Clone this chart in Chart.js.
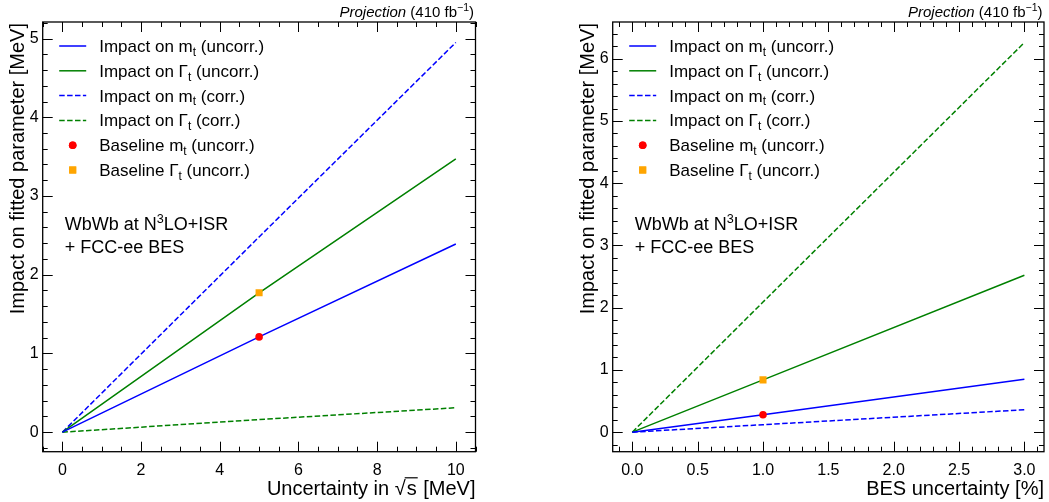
<!DOCTYPE html>
<html>
<head>
<meta charset="utf-8">
<script src="https://cdn.jsdelivr.net/npm/chart.js@4.4.1/dist/chart.umd.min.js"></script>
<style>
  html, body { margin: 0; padding: 0; background: #fff; }
  body { width: 1049px; height: 502px; position: relative; overflow: hidden; }
  canvas { position: absolute; top: 0; }
  #leftChart { left: 0; }
  #rightChart { left: 570px; }
</style>
</head>
<body>
<canvas id="leftChart" width="500" height="502"></canvas>
<canvas id="rightChart" width="479" height="502"></canvas>
<script>
// values
const sqrtsPoints = [0, 5, 10];
const sqrtsMtUncorr = [0, 1.21, 2.39];
const sqrtsGtUncorr = [0, 1.77, 3.47];
const sqrtsMtCorr = [0, 2.48, 4.95];
const sqrtsGtCorr = [0, 0.16, 0.31];
const sqrtsBaselineX = 5;
const sqrtsBaselineMt = 1.21;
const sqrtsBaselineGt = 1.77;

const besPoints = [0, 1, 3];
const besMtUncorr = [0, 0.28, 0.85];
const besGtUncorr = [0, 0.84, 2.52];
const besMtCorr = [0, 0.12, 0.36];
const besGtCorr = [0, 2.09, 6.26];
const besBaselineX = 1;
const besBaselineMt = 0.28;
const besBaselineGt = 0.84;

// tick labels
const sqrtsXTicks = [0, 2, 4, 6, 8, 10];
const sqrtsYTicks = [0, 1, 2, 3, 4, 5];
const besXTicks = [0, 0.5, 1, 1.5, 2, 2.5, 3];
const besYTicks = [0, 1, 2, 3, 4, 5, 6];

const seriesLabels = [
    'Impact on m_t (uncorr.)',
    'Impact on Γ_t (uncorr.)',
    'Impact on m_t (corr.)',
    'Impact on Γ_t (corr.)',
    'Baseline m_t (uncorr.)',
    'Baseline Γ_t (uncorr.)'
];

const FONT = "'Liberation Sans', Arial, Helvetica, sans-serif";
Chart.defaults.font.family = FONT;
Chart.defaults.color = '#000';

// split "m_t", "N^3LO", "fb^{-1}", "\sqrt{s}" into normal / sub / sup / root pieces
function richParts(text) {
    const parts = [];
    const re = /([_^]|\\sqrt)(\{[^}]*\}|.)/g;
    let last = 0, m;
    while ((m = re.exec(text))) {
        if (m.index > last) parts.push({ t: text.slice(last, m.index), k: 0 });
        let s = m[2];
        if (s[0] === '{') s = s.slice(1, -1);
        parts.push({ t: s, k: m[1] === '_' ? -1 : (m[1] === '^' ? 1 : 2) });
        last = re.lastIndex;
    }
    if (last < text.length) parts.push({ t: text.slice(last), k: 0 });
    return parts;
}

function drawRich(ctx, text, x, y, size, style, measureOnly) {
    let cx = x;
    richParts(text).forEach(p => {
        const fs = (p.k === 0 || p.k === 2) ? size : size * 0.7;
        ctx.font = `${style || ''} ${fs}px ${FONT}`;
        const dy = p.k === -1 ? size * 0.22 : (p.k === 1 ? -size * 0.4 : 0);
        if (p.k === 2) {
            // radical sign with a bar over the argument
            const wr = ctx.measureText('√').width;
            const wa = ctx.measureText(p.t).width;
            if (!measureOnly) {
                ctx.fillText('√', cx, y);
                ctx.fillText(p.t, cx + wr + 1, y);
                ctx.save();
                ctx.lineWidth = size * 0.06;
                ctx.strokeStyle = ctx.fillStyle;
                ctx.beginPath();
                ctx.moveTo(cx + wr - 1, y - size * 0.86);
                ctx.lineTo(cx + wr + wa + 2, y - size * 0.86);
                ctx.stroke();
                ctx.restore();
            }
            cx += wr + wa + 2;
            return;
        }
        if (!measureOnly) ctx.fillText(p.t, cx, y + dy);
        cx += ctx.measureText(p.t).width;
    });
    return cx - x;
}

function minorTicks(scale, step) {
    const out = [];
    const start = Math.ceil(scale.min / step - 1e-9);
    for (let i = start; i * step <= scale.max + 1e-9; i++) out.push(i * step);
    return out;
}

const hepStyle = {
    id: 'hepStyle',
    afterDraw(chart, args, opts) {
        const { ctx, chartArea: a, scales } = chart;
        ctx.save();
        ctx.strokeStyle = '#000';

        // inward ticks on all four sides
        ctx.lineWidth = 1;
        const xs = scales.x, ys = scales.y;
        const drawX = (v, len) => {
            const p = Math.round(xs.getPixelForValue(v)) + 0.5;
            ctx.beginPath();
            ctx.moveTo(p, a.bottom); ctx.lineTo(p, a.bottom - len);
            ctx.moveTo(p, a.top); ctx.lineTo(p, a.top + len);
            ctx.stroke();
        };
        const drawY = (v, len) => {
            const p = Math.round(ys.getPixelForValue(v)) + 0.5;
            ctx.beginPath();
            ctx.moveTo(a.left, p); ctx.lineTo(a.left + len, p);
            ctx.moveTo(a.right, p); ctx.lineTo(a.right - len, p);
            ctx.stroke();
        };
        minorTicks(xs, opts.xMinor).forEach(v => drawX(v, 5));
        minorTicks(ys, opts.yMinor).forEach(v => drawY(v, 5));
        xs.ticks.forEach(t => drawX(t.value, 10));
        ys.ticks.forEach(t => drawY(t.value, 10));

        // frame
        ctx.lineWidth = 1.3;
        ctx.strokeRect(a.left, a.top, a.right - a.left, a.bottom - a.top);

        // legend
        ctx.fillStyle = '#000';
        ctx.textBaseline = 'alphabetic';
        chart.data.datasets.forEach((ds, i) => {
            const cy = a.top + 24 + i * 24.8;
            const x0 = a.left + 16.5, x1 = a.left + 43.5;
            if (ds.showLine) {
                ctx.save();
                ctx.strokeStyle = ds.borderColor;
                ctx.lineWidth = ds.borderWidth;
                ctx.setLineDash(ds.borderDash || []);
                ctx.beginPath();
                ctx.moveTo(x0, cy); ctx.lineTo(x1, cy);
                ctx.stroke();
                ctx.restore();
            } else {
                ctx.save();
                ctx.fillStyle = ds.backgroundColor;
                Chart.helpers.drawPoint(ctx, {
                    pointStyle: ds.pointStyle, radius: ds.pointRadius, borderWidth: 0, rotation: 0
                }, (x0 + x1) / 2, cy);
                ctx.fill();
                ctx.restore();
            }
            ctx.fillStyle = '#000';
            drawRich(ctx, ds.label, a.left + 56.5, cy + 6, 17);
        });

        // process note
        drawRich(ctx, 'WbWb at N^3LO+ISR', a.left + 22, a.top + 208, 18);
        drawRich(ctx, '+ FCC-ee BES', a.left + 22, a.top + 231, 18);

        // luminosity label above the frame
        const rest = ' (410 fb^{−1})';
        const wRest = drawRich(ctx, rest, 0, 0, 15, '', true);
        ctx.font = `italic 15px ${FONT}`;
        const wProj = ctx.measureText('Projection').width;
        const xr = a.right - 1.5;
        ctx.fillText('Projection', xr - wRest - wProj, 17);
        drawRich(ctx, rest, xr - wRest, 17, 15);

        // axis titles, matplotlib style: x at the right end, y at the top
        const wx = drawRich(ctx, opts.xTitle, 0, 0, 20, '', true);
        drawRich(ctx, opts.xTitle, a.right - wx, 495, 20);
        ctx.save();
        ctx.translate(18.5, a.top + 1);
        ctx.rotate(-Math.PI / 2);
        ctx.textBaseline = 'middle';
        const wy = drawRich(ctx, opts.yTitle, 0, 0, 20, '', true);
        drawRich(ctx, opts.yTitle, -wy, 0, 20);
        ctx.restore();

        ctx.restore();
    }
};

function lineSet(label, xs, ys, color, dashed) {
    return {
        label: label,
        data: xs.map((x, i) => ({ x: x, y: ys[i] })),
        showLine: true,
        borderColor: color,
        backgroundColor: color,
        borderWidth: 1.5,
        borderDash: dashed ? [5.5, 2.4] : [],
        pointRadius: 0,
        fill: false,
        order: 1
    };
}

function markerSet(label, x, y, color, style, radius) {
    return {
        label: label,
        data: [{ x: x, y: y }],
        showLine: false,
        pointStyle: style,
        pointRadius: radius,
        pointBorderWidth: 0,
        backgroundColor: color,
        borderColor: color,
        order: 0
    };
}

function makePanel(id, p) {
    const ctx = document.getElementById(id).getContext('2d');
    return new Chart(ctx, {
        type: 'scatter',
        data: {
            datasets: [
                lineSet(seriesLabels[0], p.xs, p.mtU, '#0000ff', false),
                lineSet(seriesLabels[1], p.xs, p.gtU, '#008000', false),
                lineSet(seriesLabels[2], p.xs, p.mtC, '#0000ff', true),
                lineSet(seriesLabels[3], p.xs, p.gtC, '#008000', true),
                markerSet(seriesLabels[4], p.bx, p.bmt, '#ff0000', 'circle', 3.8),
                markerSet(seriesLabels[5], p.bx, p.bgt, '#ffa500', 'rect', 5)
            ]
        },
        options: {
            responsive: false,
            animation: false,
            layout: { padding: { top: 22, right: p.padRight, bottom: 0, left: 0 } },
            plugins: {
                legend: { display: false },
                tooltip: { enabled: false },
                hepStyle: {
                    xMinor: p.xMinor, yMinor: p.yMinor,
                    xTitle: p.xTitle, yTitle: 'Impact on fitted parameter [MeV]'
                }
            },
            scales: {
                x: {
                    type: 'linear',
                    min: p.xMin,
                    max: p.xMax,
                    afterBuildTicks: s => { s.ticks = p.xTicks.map(v => ({ value: v })); },
                    afterFit: s => { s.height = 50.3; },
                    grid: { display: false, drawTicks: false },
                    border: { display: false },
                    ticks: {
                        padding: 9,
                        maxRotation: 0,
                        autoSkip: false,
                        color: '#000',
                        font: { size: 16 },
                        callback: p.xFmt
                    }
                },
                y: {
                    type: 'linear',
                    min: p.yMin,
                    max: p.yMax,
                    afterBuildTicks: s => { s.ticks = p.yTicks.map(v => ({ value: v })); },
                    afterFit: s => { s.width = 42.7; },
                    grid: { display: false, drawTicks: false },
                    border: { display: false },
                    ticks: {
                        padding: 4,
                        color: '#000',
                        font: { size: 16 },
                        callback: v => String(v)
                    }
                }
            }
        },
        plugins: [hepStyle]
    });
}

makePanel('leftChart', {
    xs: sqrtsPoints, mtU: sqrtsMtUncorr, gtU: sqrtsGtUncorr, mtC: sqrtsMtCorr, gtC: sqrtsGtCorr,
    bx: sqrtsBaselineX, bmt: sqrtsBaselineMt, bgt: sqrtsBaselineGt,
    xTicks: sqrtsXTicks, yTicks: sqrtsYTicks,
    xMin: -0.5, xMax: 10.5, yMin: -0.248, yMax: 5.21,
    xMinor: 0.5, yMinor: 0.2,
    xFmt: v => String(v),
    xTitle: 'Uncertainty in \\sqrt{s} [MeV]',
    padRight: 24.5
});

makePanel('rightChart', {
    xs: besPoints, mtU: besMtUncorr, gtU: besGtUncorr, mtC: besMtCorr, gtC: besGtCorr,
    bx: besBaselineX, bmt: besBaselineMt, bgt: besBaselineGt,
    xTicks: besXTicks, yTicks: besYTicks,
    xMin: -0.15, xMax: 3.15, yMin: -0.314, yMax: 6.59,
    xMinor: 0.1, yMinor: 0.2,
    xFmt: v => v.toFixed(1),
    xTitle: 'BES uncertainty [%]',
    padRight: 4
});
</script>
</body>
</html>
